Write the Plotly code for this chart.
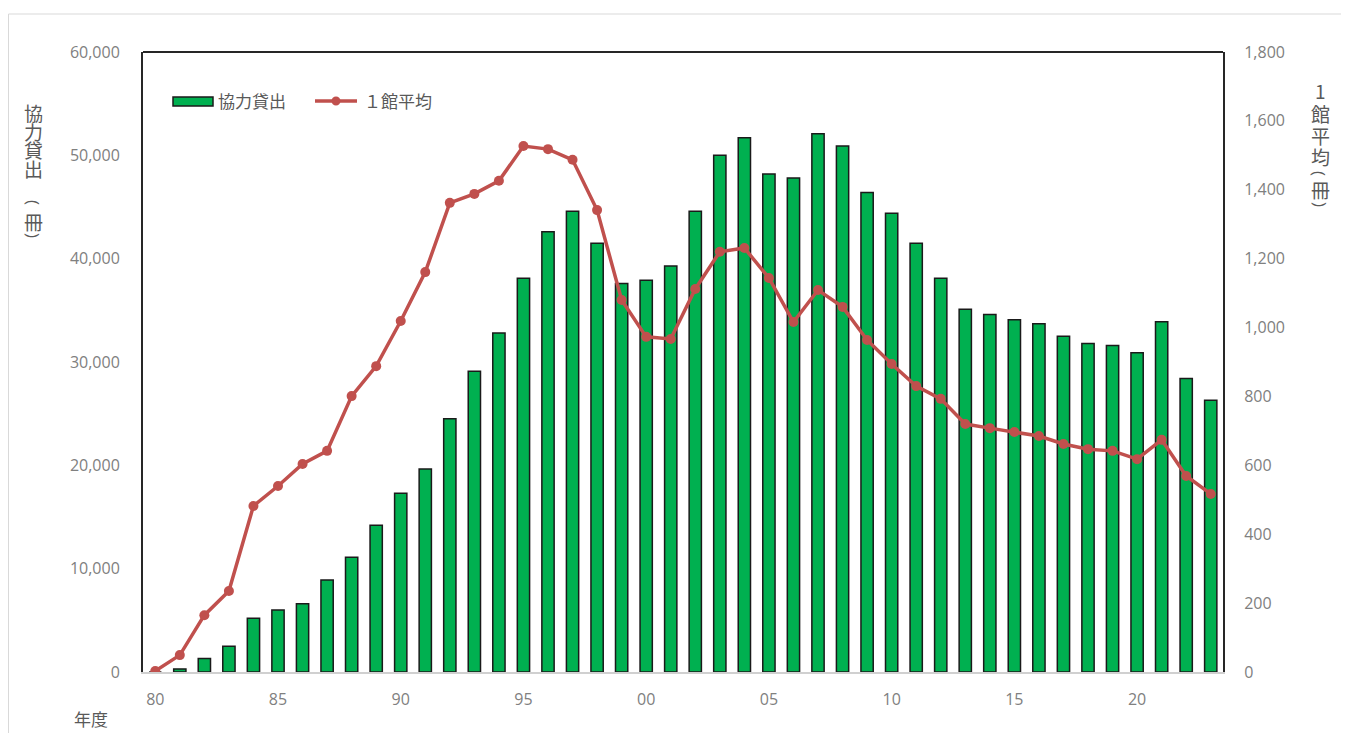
import plotly.graph_objects as go

years = list(range(1980, 2024))
lending = [0, 300, 1300, 2500, 5200, 6000, 6600, 8900, 11100, 14200,
           17300, 19650, 24500, 29100, 32800, 38100, 42600, 44600, 41500, 37600,
           37900, 39300, 44600, 50000, 51700, 48200, 47800, 52100, 50900, 46400,
           44400, 41500, 38100, 35100, 34600, 34100, 33700, 32500, 31800, 31600,
           30900, 33900, 28400, 26300]
avg_per_lib = [3, 49, 165, 235, 482, 540, 604, 642, 801, 888,
               1019, 1161, 1362, 1388, 1426, 1527, 1518, 1487, 1341, 1080,
               973, 967, 1112, 1220, 1231, 1144, 1016, 1109, 1060, 964,
               894, 830, 793, 720, 708, 697, 685, 662, 647, 642,
               618, 674, 569, 517]
xtick_vals = [1980, 1985, 1990, 1995, 2000, 2005, 2010, 2015, 2020]
xtick_text = ["80", "85", "90", "95", "00", "05", "10", "15", "20"]
left_ticks = [0, 10000, 20000, 30000, 40000, 50000, 60000]
right_ticks = [0, 200, 400, 600, 800, 1000, 1200, 1400, 1600, 1800]
left_title = ["協", "力", "貸", "出", "(", "冊", ")"]
right_title = ["1", "館", "平", "均", "(", "冊", ")"]

FONT = "Open Sans, Noto Sans CJK JP, sans-serif"
JP = "Noto Sans CJK JP, sans-serif"
GRAY = "#595959"
TICKGRAY = "#808080"
GREEN = "#00B050"
RED = "#C0504D"

# figure geometry (page offset of 8px from body margin)
W, H = 1341, 725
L, R, T, B = 135, 126, 44, 61
PW, PH = W - L - R, H - T - B


def px(xp):  # page x -> paper x
    return (xp - 8 - L) / PW


def py(yp):  # page y -> paper y
    return (H - B - (yp - 8)) / PH


fig = go.Figure()
fig.add_trace(go.Bar(
    x=years, y=lending, name="協力貸出",
    marker=dict(color=GREEN, line=dict(color="#1a1a1a", width=1.5)),
    width=0.5, yaxis="y", showlegend=False,
))
fig.add_trace(go.Scatter(
    x=years, y=avg_per_lib, name="１館平均", mode="lines+markers",
    line=dict(color=RED, width=3.5),
    marker=dict(color=RED, size=10),
    yaxis="y2", showlegend=False,
))

annotations = []


def vtitle(chars, ys, xc):
    for ch, yy in zip(chars, ys):
        paren = ch in "()"
        annotations.append(dict(
            text=ch, xref="paper", yref="paper", x=px(xc), y=py(yy),
            xanchor="center", yanchor="middle", showarrow=False,
            textangle=90 if paren else 0,
            font=dict(family=FONT if paren else JP, size=17 if paren else 19, color=GRAY)))


vtitle(left_title, [112, 131, 149, 168, 203, 221, 236], 34)
vtitle(right_title, [90, 113, 135, 157, 173, 190, 204], 1320)

annotations += [
    dict(text="年度", xref="paper", yref="paper", x=px(91), y=py(718),
         xanchor="center", yanchor="middle", showarrow=False,
         font=dict(family=JP, size=17, color=GRAY)),
    dict(text="協力貸出", xref="paper", yref="paper", x=px(216), y=py(101),
         xanchor="left", yanchor="middle", showarrow=False,
         font=dict(family=JP, size=17, color=GRAY)),
    dict(text="１館平均", xref="paper", yref="paper", x=px(362), y=py(101),
         xanchor="left", yanchor="middle", showarrow=False,
         font=dict(family=JP, size=17, color=GRAY)),
]

shapes = [
    dict(type="line", xref="paper", yref="paper", x0=0, x1=1, y0=1, y1=1,
         line=dict(color="#262626", width=2)),
    dict(type="rect", xref="paper", yref="paper",
         x0=px(8.5), x1=px(1346), y0=py(760), y1=py(14),
         line=dict(color="#d9d9d9", width=1), layer="below"),
    # custom legend
    dict(type="rect", xref="paper", yref="paper",
         x0=px(173), x1=px(213), y0=py(106), y1=py(97),
         fillcolor=GREEN, line=dict(color="#1a1a1a", width=1.5)),
    dict(type="line", xref="paper", yref="paper",
         x0=px(315), x1=px(357), y0=py(101), y1=py(101),
         line=dict(color=RED, width=3.5)),
    dict(type="circle", xref="paper", yref="paper",
         x0=px(331.5), x1=px(340.5), y0=py(105.5), y1=py(96.5),
         fillcolor=RED, line=dict(color=RED, width=0)),
]

fig.update_layout(
    width=W, height=H,
    margin=dict(l=L, r=R, t=T, b=B),
    paper_bgcolor="white", plot_bgcolor="white",
    font=dict(family=FONT, color=GRAY, size=16),
    showlegend=False,
    bargap=0.5,
    xaxis=dict(
        range=[1979.5, 2023.5], tickmode="array", tickvals=xtick_vals, ticktext=xtick_text,
        showgrid=False, zeroline=False, showline=True, linecolor="#d0d0d0", linewidth=1.5,
        ticks="", ticklabelstandoff=12, tickfont=dict(size=16, color=TICKGRAY),
    ),
    yaxis=dict(
        range=[0, 60000], tickmode="array", tickvals=left_ticks,
        tickformat=",", showgrid=False, zeroline=False,
        showline=True, linecolor="#262626", linewidth=2,
        ticks="", ticklabelstandoff=18, tickfont=dict(size=16, color=TICKGRAY),
    ),
    yaxis2=dict(
        range=[0, 1800], tickmode="array", tickvals=right_ticks, tickformat=",",
        overlaying="y", side="right", showgrid=False, zeroline=False,
        showline=True, linecolor="#262626", linewidth=2,
        ticks="", ticklabelstandoff=16, tickfont=dict(size=16, color=TICKGRAY),
    ),
    shapes=shapes,
    annotations=annotations,
)

fig.write_html("out.html")
